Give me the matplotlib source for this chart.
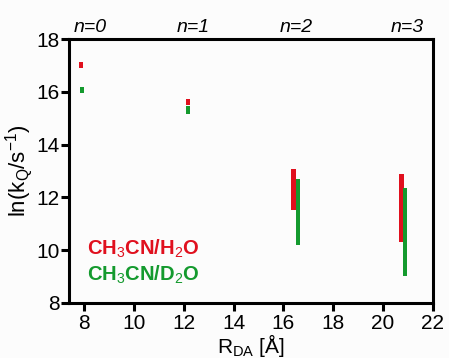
import numpy as np
import matplotlib.pyplot as plt

plt.rcParams['font.family'] = ['Liberation Sans', 'DejaVu Sans']
plt.rcParams['mathtext.fontset'] = 'custom'
plt.rcParams['mathtext.rm'] = 'Liberation Sans'
plt.rcParams['mathtext.it'] = 'Liberation Sans:italic'
plt.rcParams['mathtext.bf'] = 'Liberation Sans:bold'

# ranges of ln(kQ) for each donor-acceptor distance
r_h2o = [7.88, 12.17, 16.4, 20.74]
lo_h2o = [16.9, 15.5, 11.52, 10.32]
hi_h2o = [17.12, 15.73, 13.08, 12.87]

r_d2o = [7.9, 12.17, 16.58, 20.9]
lo_d2o = [15.95, 15.16, 10.2, 9.02]
hi_d2o = [16.18, 15.46, 12.69, 12.37]

n_labels = ['n=0', 'n=1', 'n=2', 'n=3']
n_pos = [8.24, 12.37, 16.5, 20.96]

red = '#e0101e'
green = '#149a2e'

fig = plt.figure(figsize=(4.49, 3.58), dpi=100, facecolor='#fcfcfc')
ax = fig.add_axes([0.154, 0.154, 0.81, 0.737], facecolor='#fcfcfc')

ax.bar(r_h2o, np.subtract(hi_h2o, lo_h2o), bottom=lo_h2o, width=0.18, color=red)
ax.bar(r_d2o, np.subtract(hi_d2o, lo_d2o), bottom=lo_d2o, width=0.16, color=green)

ax.set_xlim(7.4, 22)
ax.set_ylim(8, 18)
ax.set_xticks(range(8, 23, 2))
ax.set_yticks(range(8, 19, 2))
for s in ax.spines.values():
    s.set_linewidth(2.2)
ax.tick_params(width=2.2, length=6, labelsize=15, pad=1)
ax.tick_params(axis='x', pad=2)

for lab, x in zip(n_labels, n_pos):
    ax.text(x, 18.12, lab, ha='center', va='bottom', style='italic', fontsize=14)

ax.text(8.1, 10.05, r'CH$_3$CN/H$_2$O', color=red, fontsize=14.5, fontweight='bold', va='center')
ax.text(8.1, 9.05, r'CH$_3$CN/D$_2$O', color=green, fontsize=14.5, fontweight='bold', va='center')

ax.set_xlabel(r'R$_{\mathregular{DA}}$ [Å]', fontsize=15, labelpad=-1)
ax.set_ylabel(r'ln(k$_\mathregular{Q}$/s$^{\mathregular{-1}}$)', fontsize=16, labelpad=1)

fig.savefig('out.png', dpi=100, facecolor=fig.get_facecolor())
